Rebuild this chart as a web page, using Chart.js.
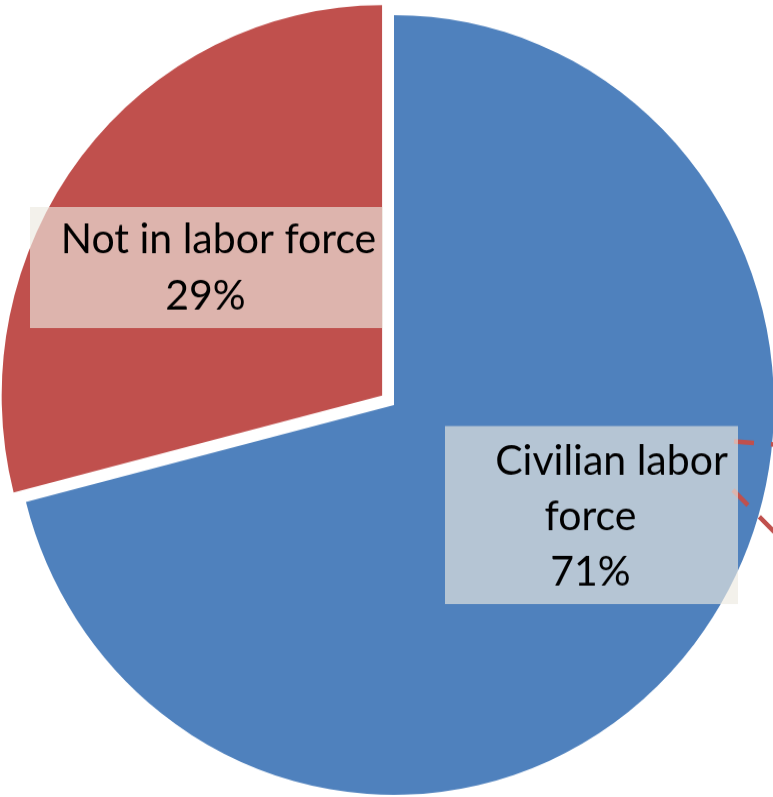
<!DOCTYPE html>
<html>
<head>
<meta charset="utf-8">
<script src="https://cdn.jsdelivr.net/npm/chart.js@4/dist/chart.umd.min.js"></script>
<style>
  html, body { margin: 0; padding: 0; background: #ffffff; overflow: hidden; width: 773px; height: 797px; }
  #wrap { position: absolute; left: -16px; top: -5px; width: 820px; height: 820px; transform: scaleY(1.026); transform-origin: 50% 50%; }
</style>
</head>
<body>
<div id="wrap"><canvas id="c" width="820" height="820"></canvas></div>
<script>
// ---- data ----
const categories = ['Civilian labor force', 'Not in labor force'];
const shares = [71, 29];
const labelLines = [['Civilian labor', 'force', '71%'], ['Not in labor force', '29%']];
const sliceColors = ['#4F81BD', '#C0504D'];
const sliceOffsets = [0, 60];

const labelPlugin = {
  id: 'boxLabels',
  afterDatasetsDraw(chart) {
    const ctx = chart.ctx;
    const arc = chart.getDatasetMeta(0).data[0];
    const cx = arc.x, cy = arc.y;
    ctx.save();
    // dashed leader lines on the right edge
    ctx.strokeStyle = '#C0504D';
    ctx.lineWidth = 4.5;
    ctx.lineCap = 'butt';
    ctx.setLineDash([20, 17]);
    ctx.beginPath();
    ctx.moveTo(cx + 340, cy + 35.6);
    ctx.lineTo(cx + 400, cy + 40);
    ctx.stroke();
    ctx.setLineDash([21, 16]);
    ctx.beginPath();
    ctx.moveTo(cx + 339, cy + 82.8);
    ctx.lineTo(cx + 400, cy + 143);
    ctx.stroke();
    ctx.setLineDash([]);

    const boxes = [
      { x0: cx + 51, y0: cy + 20.5, x1: cx + 344, y1: cy + 194, lines: labelLines[0],
        pos: [[cx + 217.5, cy + 68.2], [cx + 196.5, cy + 121.8], [cx + 196.5, cy + 176.4]] },
      { x0: cx - 364, y0: cy - 193, x1: cx - 11, y1: cy - 75, lines: labelLines[1],
        pos: [[cx - 175.5, cy - 148.1], [cx - 188.5, cy - 92.6]] }
    ];
    ctx.font = '41px Lato, "Open Sans", sans-serif';
    ctx.textAlign = 'center';
    ctx.textBaseline = 'alphabetic';
    boxes.forEach(b => {
      ctx.fillStyle = 'rgba(236,233,224,0.65)';
      ctx.fillRect(b.x0, b.y0, b.x1 - b.x0, b.y1 - b.y0);
      ctx.fillStyle = '#000000';
      b.lines.forEach((t, i) => ctx.fillText(t, b.pos[i][0], b.pos[i][1]));
    });
    ctx.restore();
  }
};

new Chart(document.getElementById('c'), {
  type: 'pie',
  data: {
    labels: categories,
    datasets: [{
      data: shares,
      backgroundColor: sliceColors,
      borderWidth: 0,
      offset: sliceOffsets,
      hoverOffset: 0
    }]
  },
  options: {
    responsive: false,
    animation: false,
    radius: 380,
    layout: { padding: 0 },
    plugins: { legend: { display: false }, tooltip: { enabled: false } }
  },
  plugins: [labelPlugin]
});
</script>
</body>
</html>
